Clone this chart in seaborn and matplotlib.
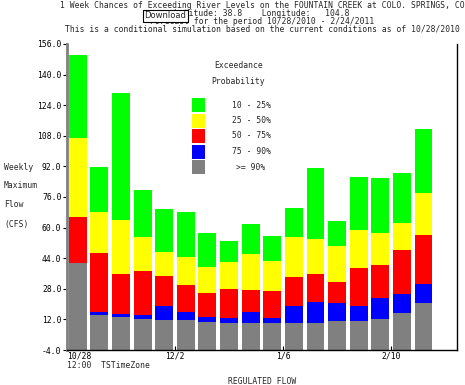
import numpy as np
import pandas as pd
import matplotlib
matplotlib.use("Agg")
import matplotlib.pyplot as plt
import seaborn as sns
from matplotlib.patches import Rectangle

# Semanas del pronostico (inicio de cada semana)
semanas = ["10/28", "11/4", "11/11", "11/18", "11/25", "12/2", "12/9", "12/16",
           "12/23", "12/30", "1/6", "1/13", "1/20", "1/27", "2/3", "2/10", "2/17"]

# Caudal maximo semanal (CFS) por probabilidad de excedencia
p10 = [150.2, 91.7, 130.2, 79.8, 69.6, 68.2, 57.0, 53.0, 62.0, 55.8, 70.1, 91.3, 63.5, 86.3, 85.9, 88.7, 111.4]
p25 = [107.0, 68.0, 64.0, 55.2, 47.2, 44.6, 39.6, 42.0, 46.4, 42.5, 54.9, 54.0, 50.5, 58.7, 57.3, 62.2, 78.1]
p50 = [65.7, 46.6, 35.6, 37.3, 34.7, 30.0, 25.6, 27.7, 27.4, 26.7, 34.2, 35.7, 31.6, 38.9, 40.4, 48.5, 56.1]
p75 = [41.7, 15.9, 15.0, 14.1, 19.0, 15.9, 13.4, 12.7, 15.9, 12.7, 19.2, 21.1, 20.6, 19.2, 23.2, 25.5, 30.7]
p90 = [41.7, 14.1, 13.3, 12.4, 11.7, 11.7, 10.6, 10.3, 10.3, 10.0, 10.3, 10.3, 11.2, 11.2, 12.0, 15.4, 20.6]

etiquetas = ["10 - 25%", "25 - 50%", "50 - 75%", "75 - 90%", ">= 90%"]
colores = ["#00ff00", "#ffff00", "#ff0000", "#0000ff", "#808080"]
yticks = np.arange(-4, 157, 16)
xtick_semanas = ["10/28", "12/2", "1/6", "2/10"]
piso = -4.0

df = pd.DataFrame({"semana": semanas, "p10": p10, "p25": p25, "p50": p50, "p75": p75, "p90": p90})
df["pos"] = np.arange(len(df)) + 0.5

sns.set_theme(style="white")
plt.rcParams['font.family'] = ['DejaVu Sans Mono']
fs = 5.8

W, H = 465, 385
fig = plt.figure(figsize=(W / 100, H / 100), dpi=100)
ax = fig.add_axes([67 / W, 1 - 350 / H, 390 / W, 306 / H])


def px(x, y):
    return x / W, 1 - y / H


# Barras apiladas: se dibuja de la mas alta a la mas baja, todas desde el piso del eje
for col, color in zip(["p10", "p25", "p50", "p75", "p90"], colores):
    sns.barplot(x=df["pos"], y=df[col] - piso, native_scale=True, color=color,
                saturation=1, width=0.83, errorbar=None, bottom=piso,
                linewidth=0, ax=ax)

ax.set_xlim(0, 18.05)
ax.set_ylim(-4, 156)
ax.set_xlabel("")
ax.set_ylabel("")

ax.set_yticks(yticks)
ax.set_yticklabels([f"{v:.1f}" for v in yticks], fontsize=fs)
idx = [semanas.index(s) for s in xtick_semanas]
ax.set_xticks(idx)
ax.set_xticklabels(xtick_semanas, fontsize=fs)
ax.get_xticklabels()[0].set_horizontalalignment("left")
ax.tick_params(axis="y", direction="out", length=3, width=0.8, pad=1, colors="black")
ax.tick_params(axis="x", direction="in", length=3, width=0.8, pad=0.8, colors="black")
ax.tick_params(left=True, bottom=True)

ax.spines["top"].set_visible(False)
ax.spines["left"].set_color("#808080")
ax.spines["left"].set_linewidth(2)
ax.spines["right"].set_color("black")
ax.spines["right"].set_linewidth(1)
ax.spines["bottom"].set_color("black")
ax.spines["bottom"].set_linewidth(1)

# Titulos
cx = 262
fig.text(*px(cx, 6), "1 Week Chances of Exceeding River Levels on the FOUNTAIN CREEK at COLO. SPRINGS, CO",
         ha="center", va="center", fontsize=fs)
fig.text(*px(cx, 14), "Latitude: 38.8    Longitude:   104.8", ha="center", va="center", fontsize=fs)
fig.text(*px(cx, 21), "Forecast for the period 10/28/2010 - 2/24/2011", ha="center", va="center", fontsize=fs)
fig.text(*px(cx, 28.5), "This is a conditional simulation based on the current conditions as of 10/28/2010",
         ha="center", va="center", fontsize=fs)
fig.text(*px(165.5, 16), "Download", ha="center", va="center", fontsize=6.0, family="DejaVu Sans",
         bbox=dict(boxstyle="square,pad=0.2", fc="white", ec="black", lw=0.8), zorder=10)

# Etiqueta del eje y
for t, yy in zip(["Weekly", "Maximum", "Flow", "(CFS)"], [167, 186, 205, 224]):
    fig.text(*px(4, yy), t, ha="left", va="center", fontsize=fs)

fig.text(*px(67, 365.5), "12:00  TSTimeZone", ha="left", va="center", fontsize=fs)
fig.text(*px(262, 381), "REGULATED FLOW", ha="center", va="center", fontsize=fs)

# Leyenda manual
fig.text(*px(238.5, 66), "Exceedance", ha="center", va="center", fontsize=fs)
fig.text(*px(238.5, 82), "Probability", ha="center", va="center", fontsize=fs)
for k, (lab, color) in enumerate(zip(etiquetas, colores)):
    top = 98 + k * 15.5
    x0, y0 = px(192, top + 14)
    fig.add_artist(Rectangle((x0, y0), 13 / W, 14 / H, transform=fig.transFigure,
                             fc=color, ec="none"))
    fig.text(*px(251, top + 7), lab, ha="center", va="center", fontsize=fs)

fig.savefig("out.png", dpi=100)
